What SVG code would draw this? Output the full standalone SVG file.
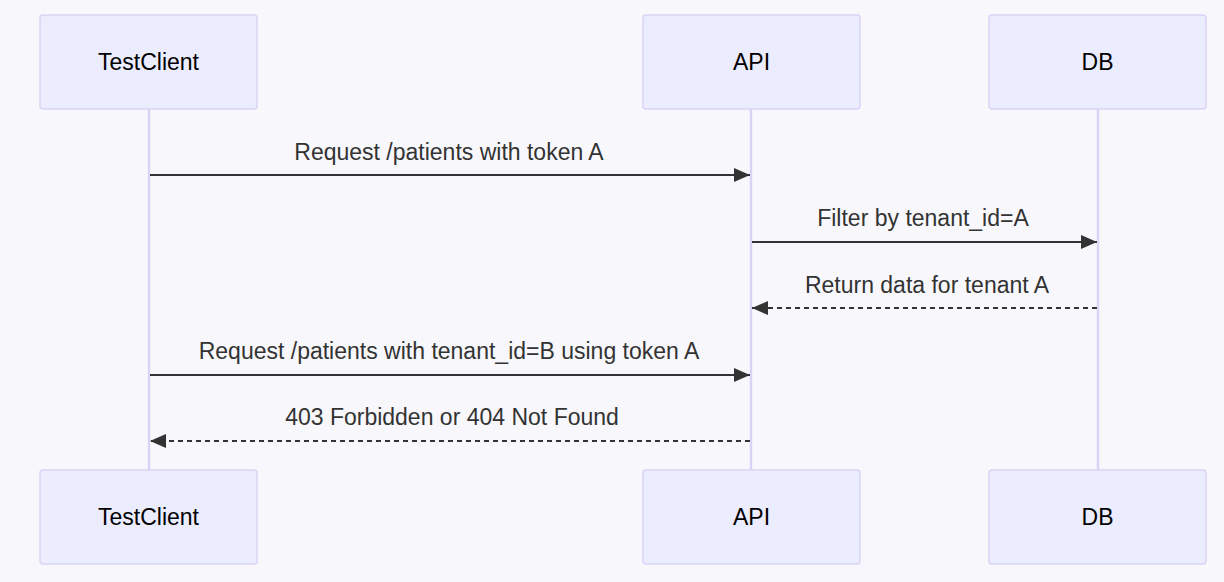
<svg xmlns="http://www.w3.org/2000/svg" width="1224" height="582" viewBox="0 0 1224 582">
<defs>
<style>
.actor{fill:#ECECFF;stroke:#d9d3f5;stroke-width:1.5;}
.atext{font-family:"Liberation Sans",Arial,sans-serif;font-size:23px;fill:#000;text-anchor:middle;dominant-baseline:central;}
.life{stroke:#d9d3f5;stroke-width:2.5;}
.msg{stroke:#333;stroke-width:2;fill:none;}
.dash{stroke-dasharray:5,4;}
.mtext{font-family:"Liberation Sans",Arial,sans-serif;font-size:23px;fill:#333;text-anchor:middle;}
</style>
<marker id="ah" viewBox="0 0 16 14" refX="16" refY="7" markerWidth="16" markerHeight="14" markerUnits="userSpaceOnUse" orient="auto">
<path d="M0,0 L16,7 L0,14 z" fill="#333"/>
</marker>
</defs>
<rect x="0" y="0" width="1224" height="582" fill="#f8f8fc"/>
<g id="lifelines">
<line class="life" x1="149" y1="109" x2="149" y2="470"/>
<line class="life" x1="751" y1="109" x2="751" y2="470"/>
<line class="life" x1="1098" y1="109" x2="1098" y2="470"/>
</g>
<g id="TestClient-top"><rect class="actor" x="40" y="15" width="217" height="94" rx="3"/><text class="atext" x="148.5" y="62">TestClient</text></g>
<g id="API-top"><rect class="actor" x="643" y="15" width="217" height="94" rx="3"/><text class="atext" x="751.5" y="62">API</text></g>
<g id="DB-top"><rect class="actor" x="989" y="15" width="217" height="94" rx="3"/><text class="atext" x="1097.5" y="62">DB</text></g>
<g id="TestClient-bottom"><rect class="actor" x="40" y="470" width="217" height="94" rx="3"/><text class="atext" x="148.5" y="517">TestClient</text></g>
<g id="API-bottom"><rect class="actor" x="643" y="470" width="217" height="94" rx="3"/><text class="atext" x="751.5" y="517">API</text></g>
<g id="DB-bottom"><rect class="actor" x="989" y="470" width="217" height="94" rx="3"/><text class="atext" x="1097.5" y="517">DB</text></g>
<g id="connectors">
<line class="msg" x1="150" y1="175" x2="750" y2="175" marker-end="url(#ah)"/>
<text class="mtext" x="449" y="160">Request /patients with token A</text>
<line class="msg" x1="752" y1="242" x2="1097" y2="242" marker-end="url(#ah)"/>
<text class="mtext" x="923" y="226">Filter by tenant_id=A</text>
<line class="msg dash" x1="1097" y1="308" x2="752" y2="308" marker-end="url(#ah)"/>
<text class="mtext" x="927" y="293">Return data for tenant A</text>
<line class="msg" x1="150" y1="375" x2="750" y2="375" marker-end="url(#ah)"/>
<text class="mtext" x="449" y="359">Request /patients with tenant_id=B using token A</text>
<line class="msg dash" x1="750" y1="441" x2="150" y2="441" marker-end="url(#ah)"/>
<text class="mtext" x="452" y="425">403 Forbidden or 404 Not Found</text>
</g>
</svg>
